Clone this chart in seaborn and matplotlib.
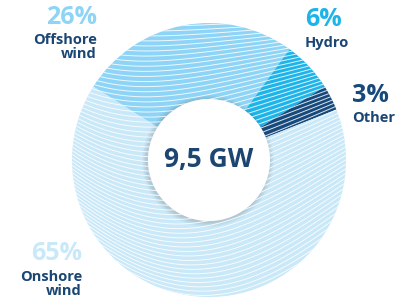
import numpy as np
import matplotlib.pyplot as plt
import seaborn as sns

sns.set_theme(style="white")
plt.rcParams['font.family'] = ['Open Sans', 'DejaVu Sans']

# data
sources = ["Offshore\nwind", "Hydro", "Other", "Onshore\nwind"]
shares = [26, 6, 3, 65]
colors = ["#8ed4f6", "#1db4ea", "#174a7c", "#c9e8f8"]
pct_colors = ["#8ed4f6", "#1db4ea", "#174a7c", "#c9e8f8"]
total_label = "9,5 GW"

navy = "#1b4673"

fig = plt.figure(figsize=(4, 3), dpi=100)
ax = fig.add_axes([0, 0, 1, 1])

cx, cy = 209, 140
r_out, r_in = 137, 61

wedges, _ = ax.pie(shares, colors=colors, startangle=147.6, counterclock=False,
                   center=(cx, cy), radius=r_out, frame=True,
                   wedgeprops=dict(width=r_out - r_in, linewidth=0))

# wavy white texture clipped to each wedge
xs = np.linspace(cx - r_out, cx + r_out, 400)
for w in wedges:
    for k in range(-40, 40):
        base = cy + k * 4.2
        ys = base + 18 * np.sin((xs - cx) / 70.0 + k * 0.05) + 0.002 * (xs - cx) ** 2
        ln, = ax.plot(xs, ys, color="white", lw=0.7, alpha=0.85)
        ln.set_clip_path(w)

# inner shadow + white center
for i, a in enumerate([0.04, 0.05, 0.06, 0.08]):
    ax.add_patch(plt.Circle((cx - 1, cy - 1), r_in + 5 - i * 1.2, color="#555555", alpha=a, lw=0))
ax.add_patch(plt.Circle((cx, cy), r_in, color="white", lw=0, zorder=5))
ax.text(cx, cy, total_label, ha="center", va="center", fontsize=19,
        fontweight="bold", color=navy, zorder=6)

# labels
lab_pos = [(97, 'right'), (305, 'left'), (352, 'left'), (82, 'right')]
lab_y = [(282, 253), (281, 257), (204, 182), (47, 16)]
for name, val, pc, (x, ha), (yp, yn) in zip(sources, shares, pct_colors, lab_pos, lab_y):
    ax.text(x, yp, f"{val}%", ha=ha, va="center", fontsize=18, fontweight="bold", color=pc)
    ax.text(x, yn, name, ha=ha, va="center", fontsize=10.5, fontweight="bold",
            color=navy, linespacing=1.05)

ax.set_xlim(0, 400)
ax.set_ylim(0, 300)
ax.set_aspect('equal')
ax.axis('off')

fig.savefig("out.png", dpi=100)
